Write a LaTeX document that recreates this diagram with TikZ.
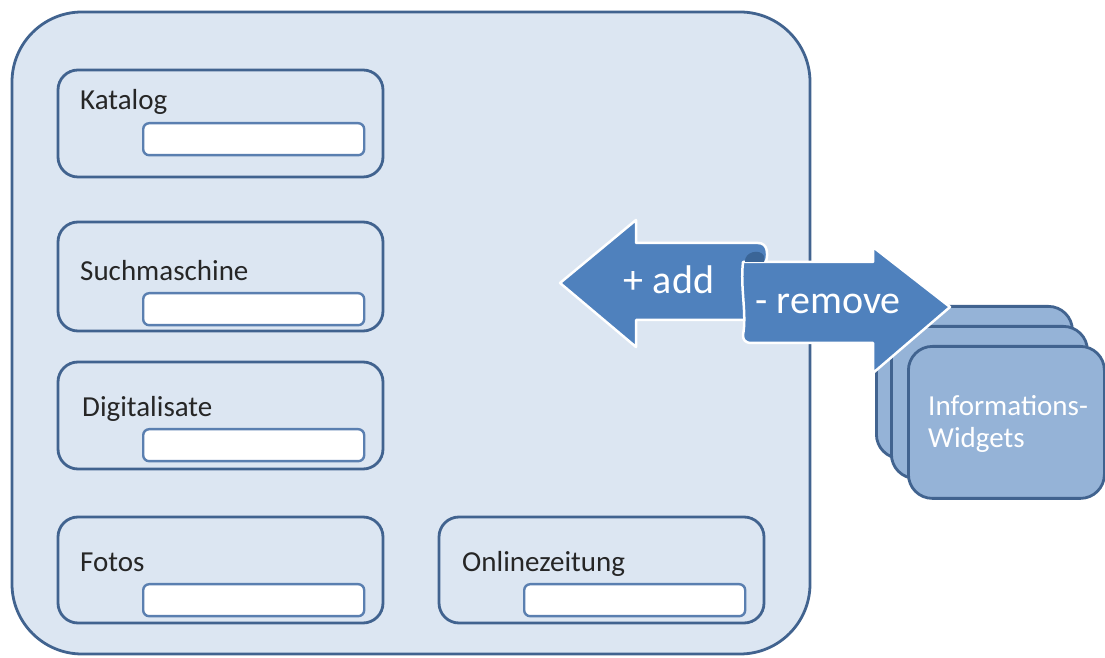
\documentclass[tikz,border=0pt]{standalone}
\usepackage{fontspec}
\setmainfont{Carlito}
\usetikzlibrary{calc, positioning}
\definecolor{rahmenblau}{HTML}{41638F}
\definecolor{flaechenblau}{HTML}{DCE6F2}
\definecolor{feldblau}{HTML}{5A7FB0}
\definecolor{pfeilblau}{HTML}{4F81BD}
\definecolor{rollblau}{HTML}{3A6597}
\definecolor{widgetblau}{HTML}{95B3D7}
\definecolor{schrift}{HTML}{262626}

\tikzset{
  modul/.style={draw=rahmenblau, line width=2.8pt, rounded corners=20pt, fill=flaechenblau, minimum width=325pt, minimum height=107pt, inner sep=0pt},
  feld/.style={draw=feldblau, line width=2.4pt, rounded corners=6pt, fill=white, minimum width=221pt, minimum height=32pt, inner sep=0pt, anchor=south east},
  beschriftung/.style={anchor=base west, text=schrift, inner sep=0pt, font=\fontsize{29}{32}\selectfont},
  widget/.style={draw=rahmenblau, line width=2.8pt, rounded corners=24pt, fill=widgetblau, minimum width=196pt, minimum height=152pt, inner sep=0pt, anchor=north west},
  pfeil/.style={fill=pfeilblau, draw=white, line width=2.5pt, line join=round},
  pfeiltext/.style={text=white, inner sep=0pt, font=\fontsize{40}{44}\selectfont}
}

\begin{document}
\begin{tikzpicture}[x=1pt, y=1pt]
        \useasboundingbox (0,0) rectangle (1105,658);
        \draw [draw=rahmenblau, line width=2.8pt, fill=flaechenblau, rounded corners=70pt] (12,4) rectangle (810,646);

        \node [modul] (katalog) at (220.5,534.5) {}; \node [feld] (katalogfeld) at ($(katalog.south east)+(-19,22)$) {}; \node [beschriftung] at (80,548) {Katalog};
        \node [modul, minimum height=109pt] (suche) at (220.5,381.5) {}; \node [feld] (suchefeld) at ($(suche.south east)+(-19,6)$) {}; \node [beschriftung] at (80,377) {Suchmaschine};
        \node [modul] (digital) at (220.5,242.5) {}; \node [feld] (digitalfeld) at ($(digital.south east)+(-19,8)$) {}; \node [beschriftung] at (82,241) {Digitalisate};
        \node [modul, minimum height=106pt] (fotos) at (220.5,88) {}; \node [feld] (fotosfeld) at ($(fotos.south east)+(-19,7)$) {}; \node [beschriftung] at (80,86) {Fotos};
        \node [modul, minimum height=106pt] (zeitung) at (601.5,88) {}; \node [feld] (zeitungfeld) at ($(zeitung.south east)+(-19,7)$) {}; \node [beschriftung] at (462,86) {Onlinezeitung};

        % Widgets
        \node [widget] (widget1) at (875,353) {};
        \node [widget] (widget2) at (890,333) {};
        \node [widget] (widget3) at (907,313) {};
        \node [anchor=west, align=left, text=white, inner sep=0pt, font=\fontsize{29}{32}\selectfont] (widgettext) at (928,234) {Informations-\\Widgets};

        % hinzufuegen / entfernen
        \draw [pfeil] (560,375) -- (636,438) -- (636,415) -- (758,415) .. controls (768,415) and (768,404) .. (766,396) -- (766,338) -- (636,338) -- (636,311) -- cycle;
        \draw [pfeil] (743,396) -- (873,396) -- (873,411) -- (950,351) -- (873,285) -- (873,315) -- (752,315) .. controls (745,315) and (743,318) .. (743,323) .. controls (747,345) and (740,370) .. (743,396) -- cycle;
        \fill [rollblau] (745,396) .. controls (744,406) and (760,410) .. (764,402) -- (764,396) -- cycle;
        \node [pfeiltext] (add) at (669,378) {+ add};
        \node [pfeiltext] (remove) at (828,354) {- remove};
\end{tikzpicture}
\end{document}
